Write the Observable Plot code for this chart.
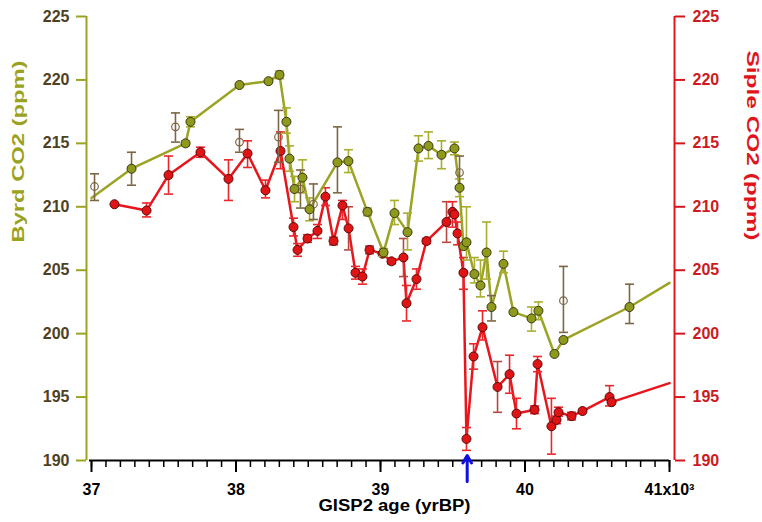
<!DOCTYPE html>
<html><head><meta charset="utf-8">
<script src="https://cdn.jsdelivr.net/npm/d3@7"></script>
<script src="https://cdn.jsdelivr.net/npm/@observablehq/plot@0.6"></script>
<style>body{margin:0;background:#fff;}</style>
</head><body><div id="chart"></div>
<script>
// ---------- data (GISP2 age in kyr BP, CO2 in ppm) ----------
const yTicks = [190, 195, 200, 205, 210, 215, 220, 225];
const xMajorTicks = [37, 38, 39, 40, 41];
const markerAge = [39.6];

// Byrd CO2 (filled markers)
const byrdAge = [37.277,37.651,37.685,38.024,38.225,38.301,38.349,38.370,38.405,38.460,38.509,38.702,38.778,38.910,39.021,39.097,39.187,39.263,39.332,39.422,39.512,39.547,39.574,39.595,39.650,39.692,39.734,39.768,39.851,39.920,40.045,40.093,40.204,40.266,40.723];
const byrdCO2 = [213.0,215.0,216.7,219.6,219.9,220.4,216.7,213.8,211.4,212.3,209.8,213.5,213.6,209.6,206.4,209.5,208.0,214.6,214.8,214.1,214.6,211.5,206.9,207.2,204.7,203.8,206.4,202.1,205.5,201.7,201.2,201.8,198.4,199.5,202.1];
const byrdLo  = [211.7,214.8,216.3,null,null,220.1,215.8,212.8,210.4,211.1,208.9,211.1,212.7,209.3,206.1,208.6,206.6,213.6,213.8,213.0,214.1,210.8,null,205.8,204.0,202.9,204.3,201.0,204.8,null,200.2,201.1,null,null,200.8];
const byrdHi  = [214.3,215.2,217.1,null,null,220.7,217.8,214.8,212.4,213.7,210.7,216.3,214.5,209.9,206.7,210.5,209.5,215.6,215.9,215.2,215.1,212.2,null,210.0,206.0,205.8,208.8,203.0,206.5,null,202.1,202.5,null,null,203.9];
const byrdBarKind = ["b","o","o","","","o","o","o","o","o","o","b","o","o","o","o","o","o","o","o","o","o","","o","o","o","o","b","o","","o","o","","","b"];
// line continues to the plot edges
const byrdEdgeAge = [37.0, 41.0];
const byrdEdgeCO2 = [210.7, 204.0];

// Byrd CO2 (open markers)
const byrdOpenAge = [37.021,37.581,38.024,38.294,38.446,38.536,39.547,40.266];
const byrdOpenCO2 = [211.6,216.3,215.1,215.5,211.4,210.2,212.7,202.6];
const byrdOpenLo  = [210.5,215.1,214.3,213.5,209.9,209.0,211.4,200.1];
const byrdOpenHi  = [212.6,217.4,216.1,217.6,212.9,211.8,214.0,205.3];

// Siple CO2
const sipleAge = [37.159,37.381,37.533,37.754,37.948,38.080,38.204,38.308,38.398,38.426,38.495,38.564,38.619,38.675,38.737,38.779,38.827,38.875,38.924,39.014,39.076,39.159,39.180,39.249,39.318,39.457,39.498,39.512,39.533,39.574,39.595,39.644,39.706,39.810,39.893,39.941,40.066,40.087,40.183,40.218,40.232,40.322,40.398,40.585,40.599];
const sipleCO2 = [210.2,209.7,212.5,214.3,212.2,214.2,211.3,214.4,208.4,206.6,207.5,208.1,210.8,207.3,210.1,208.3,204.8,204.5,206.6,206.3,205.7,206.0,202.4,204.3,207.3,208.8,209.6,209.4,207.9,204.8,191.7,198.2,200.5,195.8,196.8,193.7,194.0,197.6,192.7,193.2,193.8,193.5,193.9,195.0,194.6];
const sipleLo  = [null,209.2,211.0,213.9,210.5,213.1,210.7,213.0,207.7,206.1,207.2,207.5,210.1,207.0,209.0,206.6,204.3,203.9,206.3,null,205.5,204.5,201.0,203.5,207.1,207.2,208.4,null,207.0,203.5,190.8,197.2,199.5,193.8,195.3,192.5,193.7,197.0,190.5,192.9,193.5,193.2,null,194.3,null];
const sipleHi  = [null,210.3,214.0,214.7,213.7,215.2,212.1,215.9,209.1,207.1,207.8,208.6,211.5,207.6,210.5,210.0,205.3,205.1,206.9,null,205.9,207.5,203.8,205.1,207.5,210.4,210.4,null,208.8,206.0,192.6,199.2,201.8,197.8,198.3,194.9,194.3,198.2,194.9,193.5,194.2,193.8,null,195.9,null];
const sipleBarKind = ["","r","r","r","r","r","r","r","r","r","r","r","r","r","r","d","r","r","r","","r","d","r","r","r","d","r","","r","r","r","r","r","d","r","r","r","r","r","r","r","r","","r",""];
const sipleEdgeAge = [41.0];
const sipleEdgeCO2 = [196.1];

const titles = {left: "Byrd CO2 (ppm)", right: "Siple CO2 (ppm)", x: "GISP2 age (yrBP)"};

// ---------- colours ----------
const OLIVE = "#9ba325", OLIVE_FILL = "#8e9a1c", OLIVE_BAR = "#a9ae2f", BROWN = "#7d6645";
const RED = "#e8161c", RED_FILL = "#e01414", RED_BAR = "#ea262c", RED_DARK = "#b8473f";
const DARK = "#3b3410";

// ---------- rows ----------
const byrd = byrdAge.map((x, i) => ({x, y: byrdCO2[i], lo: byrdLo[i], hi: byrdHi[i], k: byrdBarKind[i]}));
const byrdLine = [{x: byrdEdgeAge[0], y: byrdEdgeCO2[0]}, ...byrd, {x: byrdEdgeAge[1], y: byrdEdgeCO2[1]}];
const byrdBars = byrd.filter(d => d.lo != null);
const byrdOpen = byrdOpenAge.map((x, i) => ({x, y: byrdOpenCO2[i], lo: byrdOpenLo[i], hi: byrdOpenHi[i]}));
const siple = sipleAge.map((x, i) => ({x, y: sipleCO2[i], lo: sipleLo[i], hi: sipleHi[i], k: sipleBarKind[i]}));
const sipleLine = [...siple, ...sipleEdgeAge.map((x, i) => ({x, y: sipleEdgeCO2[i]}))];
const sipleBars = siple.filter(d => d.lo != null);

const byrdBarColor = d => d.k === "b" ? BROWN : OLIVE_BAR;
const sipleBarColor = d => d.k === "d" ? RED_DARK : RED_BAR;

// horizontal cap symbol for error bars
const cap = {draw(ctx) { ctx.moveTo(-4.5, 0); ctx.lineTo(4.5, 0); }};

function errorBars(data, stroke) {
  return [
    Plot.ruleX(data, {x: "x", y1: "lo", y2: "hi", stroke, strokeWidth: 1.6}),
    Plot.dot(data, {x: "x", y: "lo", symbol: cap, stroke, fill: "none", strokeWidth: 1.6}),
    Plot.dot(data, {x: "x", y: "hi", symbol: cap, stroke, fill: "none", strokeWidth: 1.6})
  ];
}

const yMin = d3.min(yTicks), yMax = d3.max(yTicks);
const xMin = d3.min(xMajorTicks), xMax = d3.max(xMajorTicks);
const xMinorTicks = d3.range(xMin * 10, xMax * 10 + 1).map(d => d / 10);

const chart = Plot.plot({
  width: 762, height: 522,
  marginLeft: 91, marginRight: 93, marginTop: 16, marginBottom: 62,
  x: {domain: [xMin, xMax]},
  y: {domain: [yMin, yMax]},
  style: {fontFamily: "'Liberation Sans', Arial, sans-serif", fontWeight: "bold", background: "white"},
  marks: [
    // left axis (Byrd)
    Plot.ruleX([xMin], {y1: yMin, y2: yMax, dx: -5, stroke: OLIVE, strokeWidth: 2}),
    Plot.axisY({anchor: "left", ticks: yTicks, tickSize: 10, tickPadding: 7, dx: -5, stroke: OLIVE, fill: "#4e4121", strokeWidth: 2, fontSize: 16, label: null}),
    Plot.text([titles.left], {frameAnchor: "left", dx: -73, dy: 4, rotate: -90, fill: "#9aa21f", fontSize: 16, fontWeight: "bold"}),
    // right axis (Siple)
    Plot.ruleX([xMax], {y1: yMin, y2: yMax, dx: 5, stroke: RED, strokeWidth: 2}),
    Plot.axisY({anchor: "right", ticks: yTicks, tickSize: 10, tickPadding: 8, dx: 5, stroke: "#d2161e", fill: "#cc1a20", strokeWidth: 2, fontSize: 16, label: null}),
    Plot.text([titles.right], {frameAnchor: "right", dx: 83, dy: 2, rotate: 90, fill: "#e0151b", fontSize: 16, fontWeight: "bold"}),
    // x axis
    Plot.ruleY([yMin], {x1: xMin, x2: xMax, stroke: "black", strokeWidth: 2, insetLeft: -2}),
    Plot.axisX({anchor: "bottom", ticks: xMinorTicks, tickSize: 7, text: null, stroke: "black", strokeWidth: 1.5, label: null}),
    Plot.axisX({anchor: "bottom", ticks: xMajorTicks, tickSize: 12, tickPadding: 11, stroke: "black", strokeWidth: 2, fill: "black", fontSize: 16,
      tickFormat: d => d === xMax ? `${d}x10³` : `${d}`, label: null}),
    Plot.text([titles.x], {frameAnchor: "bottom", dx: 14, dy: 50, fill: "black", fontSize: 16, fontWeight: "bold"}),
    // Siple series
    Plot.line(sipleLine, {x: "x", y: "y", stroke: RED, strokeWidth: 2.5}),
    ...errorBars(sipleBars, sipleBarColor),
    Plot.dot(siple, {x: "x", y: "y", r: 4.5, fill: RED_FILL, stroke: "#5c0a0a", strokeWidth: 1}),
    // Byrd series
    Plot.line(byrdLine, {x: "x", y: "y", stroke: OLIVE, strokeWidth: 2.5}),
    ...errorBars(byrdBars, byrdBarColor),
    ...errorBars(byrdOpen, BROWN),
    Plot.dot(byrdOpen, {x: "x", y: "y", r: 3.8, fill: "none", stroke: BROWN, strokeWidth: 1.2}),
    Plot.dot(byrd, {x: "x", y: "y", r: 4.5, fill: OLIVE_FILL, stroke: DARK, strokeWidth: 1}),
    // blue age marker
    Plot.arrow(markerAge, {x1: d => d, x2: d => d, y1: () => yMin - 1.65, y2: () => yMin + 0.4, stroke: "#1010e0", strokeWidth: 3, headLength: 8})
  ]
});

// widen the axis titles to the reference's lettering width
const titleLengths = {[titles.left]: 182, [titles.right]: 190, [titles.x]: 152};
chart.querySelectorAll("text").forEach(t => {
  const len = titleLengths[t.textContent];
  if (len) { t.setAttribute("textLength", len); t.setAttribute("lengthAdjust", "spacingAndGlyphs"); }
});
document.getElementById("chart").appendChild(chart);
</script>
</body></html>
